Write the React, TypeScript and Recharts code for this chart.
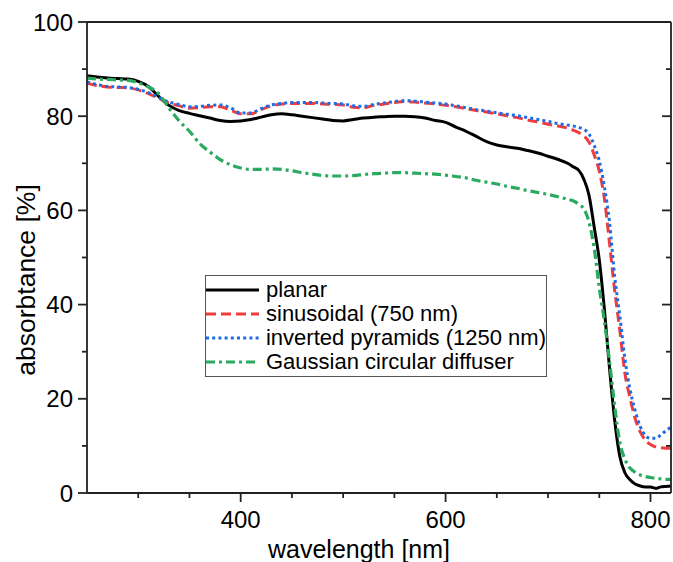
import React from 'react';
import { LineChart, Line, XAxis, YAxis, Legend } from 'recharts';

// wavelength grid [nm]
const wavelength = [
  250, 260, 270, 280, 290, 300, 310, 320, 330, 340,
  350, 360, 370, 380, 390, 400, 410, 420, 430, 440,
  450, 460, 470, 480, 490, 500, 510, 520, 530, 540,
  550, 560, 570, 580, 590, 600, 610, 620, 630, 640,
  650, 660, 670, 680, 690, 700, 710, 720,
  725, 730, 735, 740, 745, 750, 755, 760, 765, 770,
  775, 780, 785, 790, 795, 800, 805, 810, 815, 820,
];

const planar = [
  88.6, 88.3, 88.1, 88.0, 87.9, 87.4, 86.3, 84.2, 82.3, 81.2,
  80.6, 80.1, 79.6, 79.1, 78.9, 79.0, 79.3, 79.8, 80.3, 80.5,
  80.3, 80.0, 79.7, 79.4, 79.1, 79.0, 79.3, 79.6, 79.8, 79.9,
  80.0, 80.0, 79.9, 79.6, 79.1, 78.7, 77.7, 76.8, 75.7, 74.6,
  73.9, 73.5, 73.2, 72.7, 72.2, 71.5, 70.8, 69.9,
  69.2, 68.5, 66.6, 63.2, 56.5, 49.5, 39.0, 26.5, 15.5, 7.8,
  4.3, 2.8, 1.9, 1.5, 1.3, 1.3, 1.0, 1.3, 1.4, 1.5,
];

const sinusoidal = [
  87.0, 86.5, 86.2, 86.1, 86.0, 85.6, 84.8, 83.8, 82.8, 82.2,
  81.7, 81.8, 82.0, 82.0, 81.3, 80.5, 80.5, 81.4, 82.2, 82.6,
  82.7, 82.7, 82.7, 82.6, 82.5, 82.4, 81.9, 81.8, 82.3, 82.6,
  82.9, 83.1, 83.0, 82.8, 82.6, 82.3, 82.0, 81.6, 81.2, 80.9,
  80.5, 80.1, 79.7, 79.2, 78.8, 78.3, 77.9, 77.4,
  77.0, 76.5, 75.8, 74.5, 71.8, 68.3, 62.5, 53.0, 43.0, 34.6,
  25.4, 20.2, 15.8, 13.0, 11.2, 10.3, 9.8, 9.6, 9.5, 9.5,
];

const invertedPyramids = [
  87.3, 86.7, 86.3, 86.2, 86.1, 85.7, 85.0, 84.0, 83.0, 82.5,
  82.0, 82.1, 82.3, 82.4, 81.8, 80.7, 80.7, 81.6, 82.4, 82.7,
  82.9, 82.9, 82.9, 82.8, 82.7, 82.6, 82.2, 82.1, 82.5, 82.8,
  83.1, 83.3, 83.2, 83.0, 82.8, 82.6, 82.2, 81.8, 81.4, 81.1,
  80.7, 80.4, 80.1, 79.7, 79.3, 78.9, 78.4, 78.1,
  77.9, 77.6, 77.2, 76.2, 73.8, 70.5, 65.0, 57.5, 46.0, 37.7,
  28.5, 22.0, 17.5, 14.1, 12.2, 11.6, 11.6, 12.3, 13.2, 14.0,
];

const gaussianDiffuser = [
  88.1, 87.9, 87.8, 87.7, 87.6, 87.1, 86.2, 84.8, 81.7, 79.0,
  76.8, 74.2, 72.4, 70.8, 69.7, 69.0, 68.7, 68.7, 68.8, 68.7,
  68.4, 68.0, 67.7, 67.4, 67.3, 67.3, 67.4, 67.6, 67.8, 67.9,
  68.0, 68.0, 67.9, 67.8, 67.7, 67.5, 67.2, 66.9, 66.4, 66.0,
  65.6, 65.1, 64.7, 64.2, 63.8, 63.4, 62.9, 62.3,
  62.0, 61.3, 60.3, 57.5, 52.0, 43.5, 36.5, 28.0, 18.5, 10.8,
  7.2, 5.3, 4.4, 3.8, 3.5, 3.3, 3.1, 3.0, 2.9, 2.9,
];

const xTicks = [300, 350, 400, 450, 500, 550, 600, 650, 700, 750, 800];
const xLabeled = [400, 600, 800];
const yTicks = [0, 10, 20, 30, 40, 50, 60, 70, 80, 90, 100];
const yLabeled = [0, 20, 40, 60, 80, 100];

const series = [
  { key: 'planar', name: 'planar', color: '#000000', dash: undefined, width: 3 },
  { key: 'sinusoidal', name: 'sinusoidal (750 nm)', color: '#f23c3c', dash: '10 5', width: 3 },
  { key: 'inverted', name: 'inverted pyramids (1250 nm)', color: '#1c6de6', dash: '3 3.2', width: 3 },
  { key: 'gaussian', name: 'Gaussian circular diffuser', color: '#2aaa5e', dash: '9 4 3 4', width: 3.2 },
];

const data = wavelength.map((w, i) => ({
  wavelength: w,
  planar: planar[i],
  sinusoidal: sinusoidal[i],
  inverted: invertedPyramids[i],
  gaussian: gaussianDiffuser[i],
}));

const font = '"Liberation Sans", Arial, sans-serif';
const axisColor = '#222';

const BottomTick = (props: any) => {
  const { x, y, payload } = props;
  const major = xLabeled.includes(payload.value);
  return (
    <g>
      <line x1={x} y1={y} x2={x} y2={y + (major ? 9 : 5)} stroke={axisColor} strokeWidth={1.8} />
      {major && (
        <text x={x} y={y + 35} textAnchor="middle" fontSize={24} fontFamily={font} fill="#000">
          {payload.value}
        </text>
      )}
    </g>
  );
};

const TopTick = (props: any) => {
  const { x, y, payload } = props;
  const major = xLabeled.includes(payload.value);
  return <line x1={x} y1={y} x2={x} y2={y + (major ? 9 : 5)} stroke={axisColor} strokeWidth={1.8} />;
};

const LeftTick = (props: any) => {
  const { x, y, payload } = props;
  const major = yLabeled.includes(payload.value);
  return (
    <g>
      <line x1={x} y1={y} x2={x - (major ? 9 : 5)} y2={y} stroke={axisColor} strokeWidth={1.8} />
      {major && (
        <text x={x - 14} y={y} dy="0.36em" textAnchor="end" fontSize={24} fontFamily={font} fill="#000">
          {payload.value}
        </text>
      )}
    </g>
  );
};

const RightTick = (props: any) => {
  const { x, y, payload } = props;
  const major = yLabeled.includes(payload.value);
  return <line x1={x} y1={y} x2={x - (major ? 9 : 5)} y2={y} stroke={axisColor} strokeWidth={1.8} />;
};

const renderLegend = () => (
  <div
    style={{
      width: 342,
      height: 102,
      boxSizing: 'border-box',
      border: '1.5px solid #555',
      background: '#fff',
      paddingTop: 2,
      fontFamily: font,
      fontSize: 22,
      color: '#000',
    }}
  >
    {series.map((s) => (
      <div key={s.key} style={{ display: 'flex', alignItems: 'center', height: 24 }}>
        <svg width={53} height={10} style={{ display: 'block' }}>
          <line x1={0} y1={5} x2={53} y2={5} stroke={s.color} strokeWidth={3} strokeDasharray={s.dash} />
        </svg>
        <span style={{ marginLeft: 7, lineHeight: '24px', whiteSpace: 'nowrap' }}>{s.name}</span>
      </div>
    ))}
  </div>
);

export default function App() {
  return (
    <div style={{ position: 'absolute', left: 0, top: 0, background: '#fff' }}>
      <LineChart width={673} height={562} data={data} margin={{ top: 21, right: 1, bottom: 0, left: 0 }}>
        <XAxis
          xAxisId="b"
          dataKey="wavelength"
          type="number"
          domain={[250, 820]}
          ticks={xTicks}
          interval={0}
          height={69}
          tickSize={0}
          tickMargin={0}
          tickLine={false}
          tick={BottomTick}
          axisLine={{ stroke: axisColor, strokeWidth: 1.8 }}
          allowDataOverflow
          label={() => (
            <text x={359} y={558} textAnchor="middle" fontSize={25} fontFamily={font} fill="#000">
              wavelength [nm]
            </text>
          )}
        />
        <XAxis
          xAxisId="t"
          orientation="top"
          type="number"
          domain={[250, 820]}
          ticks={xTicks}
          interval={0}
          height={1}
          tickSize={0}
          tickMargin={0}
          tickLine={false}
          tick={TopTick}
          axisLine={{ stroke: axisColor, strokeWidth: 1.8 }}
          allowDataOverflow
        />
        <YAxis
          yAxisId="l"
          type="number"
          domain={[0, 100]}
          ticks={yTicks}
          interval={0}
          width={87}
          tickSize={0}
          tickMargin={0}
          tickLine={false}
          tick={LeftTick}
          axisLine={{ stroke: axisColor, strokeWidth: 1.8 }}
          allowDataOverflow
          label={() => (
            <text
              x={35}
              y={280}
              transform="rotate(-90 35 280)"
              textAnchor="middle"
              fontSize={26.5}
              fontFamily={font}
              fill="#000"
            >
              absorbtance [%]
            </text>
          )}
        />
        <YAxis
          yAxisId="r"
          orientation="right"
          type="number"
          domain={[0, 100]}
          ticks={yTicks}
          interval={0}
          width={1}
          tickSize={0}
          tickMargin={0}
          tickLine={false}
          tick={RightTick}
          axisLine={{ stroke: axisColor, strokeWidth: 1.8 }}
          allowDataOverflow
        />
        {series.map((s) => (
          <Line
            key={s.key}
            xAxisId="b"
            yAxisId="l"
            type="monotone"
            dataKey={s.key}
            name={s.name}
            stroke={s.color}
            strokeWidth={s.width}
            strokeDasharray={s.dash}
            dot={false}
            isAnimationActive={false}
          />
        ))}
        <Legend
          layout="vertical"
          align="center"
          verticalAlign="middle"
          content={renderLegend}
          wrapperStyle={{ position: 'absolute', left: 205, top: 275, width: 342 }}
        />
      </LineChart>
    </div>
  );
}
